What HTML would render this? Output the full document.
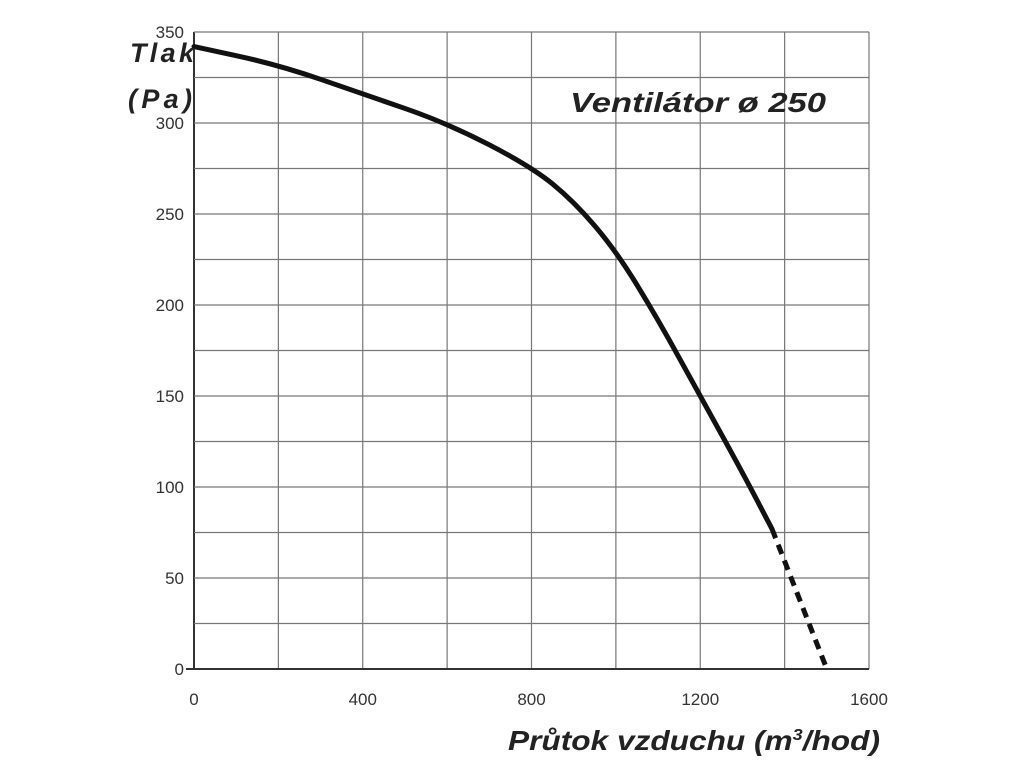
<!DOCTYPE html>
<html><head><meta charset="utf-8"><style>
body{margin:0;background:#fff;}
svg{display:block;}
text{font-family:"Liberation Sans",sans-serif;}
</style></head><body>
<svg id="chart" width="1024" height="768" xmlns="http://www.w3.org/2000/svg">
<g id="grid"></g>
<g id="ticks"></g>
<g id="series"></g>
<text x="130" y="62" font-size="27" font-weight="bold" font-style="italic" fill="#222" textLength="64">Tlak</text>
<text x="128" y="108" font-size="27" font-weight="bold" font-style="italic" fill="#222" textLength="64">(Pa)</text>
<text x="570" y="112" font-size="28" font-weight="bold" font-style="italic" fill="#222" textLength="256" lengthAdjust="spacingAndGlyphs">Ventilátor ø 250</text>
<text x="508" y="750" font-size="28" font-weight="bold" font-style="italic" fill="#222" textLength="372" lengthAdjust="spacingAndGlyphs">Průtok vzduchu (m<tspan font-size="16" dy="-10">3</tspan><tspan dy="10">/hod)</tspan></text>
</svg>
<script>
const xTicks=[0,400,800,1200,1600];
const yTicks=[0,50,100,150,200,250,300,350];
const flowSolid=[0,200,400,600,800,900,1000,1100,1200,1300,1370];
const pressureSolid=[342,332,316,300,276,257,230,192,150,108,77];
const flowDashed=[1370,1500];
const pressureDashed=[77,0];
const X0=194,X1=869,Y0=669,Y1=32;
const sx=v=>X0+(v/1600)*(X1-X0);
const sy=v=>Y0-(v/350)*(Y0-Y1);
const NS="http://www.w3.org/2000/svg";
const grid=document.getElementById('grid'),ticks=document.getElementById('ticks'),series=document.getElementById('series');
function ln(x1,y1,x2,y2,sw,col){const l=document.createElementNS(NS,'line');l.setAttribute('x1',x1);l.setAttribute('y1',y1);l.setAttribute('x2',x2);l.setAttribute('y2',y2);l.setAttribute('stroke',col);l.setAttribute('stroke-width',sw);return l;}
for(let v=0;v<=1600;v+=200){const l=ln(sx(v),Y1,sx(v),Y0,v===0?2:1.2,v===0?'#333':'#777');


grid.appendChild(l);}
for(let v=0;v<=350;v+=25){const l=ln(v===0?186:X0,sy(v),X1,sy(v),v===0?2:1.2,v===0?'#333':'#777');


grid.appendChild(l);}
xTicks.forEach(v=>{const t=document.createElementNS(NS,'text');t.setAttribute('x',sx(v));t.setAttribute('y',705);t.setAttribute('text-anchor','middle');t.setAttribute('font-size','17');t.setAttribute('fill','#333');t.textContent=v;


ticks.appendChild(t);});
yTicks.forEach(v=>{const t=document.createElementNS(NS,'text');t.setAttribute('x',184);t.setAttribute('y',sy(v)+6);t.setAttribute('text-anchor','end');t.setAttribute('font-size','17');t.setAttribute('fill','#333');t.textContent=v;


ticks.appendChild(t);});
function mkPath(xs,ys){let d='M'+sx(xs[0])+','+sy(ys[0]);for(let i=1;i<xs.length;i++){const x0=sx(xs[i-1]),y0=sy(ys[i-1]),x1=sx(xs[i]),y1=sy(ys[i]);d+=' Q'+x0+','+y0+' '+((x0+x1)/2)+','+((y0+y1)/2);}d+=' L'+sx(xs[xs.length-1])+','+sy(ys[ys.length-1]);return d;}
const p=document.createElementNS(NS,'path');p.setAttribute('d',mkPath(flowSolid,pressureSolid));p.setAttribute('fill','none');p.setAttribute('stroke','#111');p.setAttribute('stroke-width','5');p.setAttribute('stroke-linecap','round');


series.appendChild(p);
const dpath=document.createElementNS(NS,'path');dpath.setAttribute('d','M'+sx(flowDashed[0])+','+sy(pressureDashed[0])+' L'+sx(flowDashed[1])+','+sy(pressureDashed[1]));dpath.setAttribute('fill','none');dpath.setAttribute('stroke','#111');dpath.setAttribute('stroke-width','5');dpath.setAttribute('stroke-dasharray','10,7');


series.appendChild(dpath);
</script>
</body></html>
